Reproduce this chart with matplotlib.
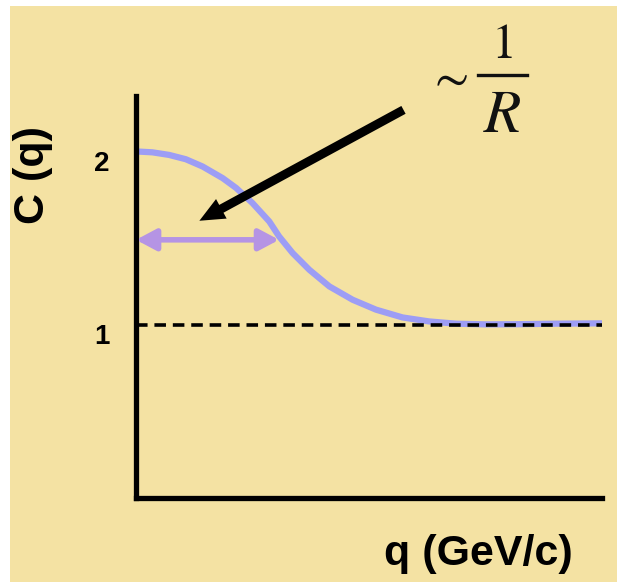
import matplotlib
matplotlib.use("Agg")
import matplotlib.pyplot as plt
import matplotlib.transforms as mtransforms
from matplotlib.patches import FancyArrowPatch, Rectangle
from matplotlib.lines import Line2D

# ---- data ----
q_vals = [0, 3.5, 7.1, 10.7, 14.3, 18.6, 21.5, 25.0, 28.6, 30.7, 33.6, 37.2, 41.5,
          46.5, 51.5, 57.2, 62.9, 68.7, 75.0, 82.0, 90.0, 100.0]
c_vals = [2.0, 1.995, 1.98, 1.955, 1.913, 1.846, 1.789, 1.702, 1.596, 1.510, 1.414, 1.317, 1.221,
          1.144, 1.087, 1.042, 1.019, 1.006, 1.002, 1.003, 1.006, 1.008]
y_ticks = [1, 2]
y_tick_labels = ["1", "2"]
baseline = 1.0
width_arrow_q = [0, 30.7]      # double arrow extent (q)
width_arrow_c = 1.49           # level of double arrow
pointer_tail = (57.4, 2.24)
pointer_head = (13.6, 1.60)

BG = "#f4e2a3"
CURVE = "#9d9df5"
PURPLE = "#b594e4"
INK = "#111111"

plt.rcParams["mathtext.fontset"] = "stix"

fig = plt.figure(figsize=(6.17, 5.82), dpi=100)
fig.patch.set_facecolor("white")
fig.patches.append(Rectangle((10/617, 0), 1 - 10/617, 1 - 6/582, transform=fig.transFigure,
                             facecolor=BG, edgecolor="none", zorder=-10))

ax = fig.add_axes([136/617, 1 - 498/582, (602 - 136)/617, (498 - 96)/582])
ax.set_facecolor("none")
ax.set_xlim(0, 100)
ax.set_ylim(0, 2.32)

for s in ["top", "right"]:
    ax.spines[s].set_visible(False)
for s in ["left", "bottom"]:
    ax.spines[s].set_linewidth(3.8)
    ax.spines[s].set_capstyle("projecting")

ax.set_xticks([])
ax.set_yticks(y_ticks)
ax.set_yticklabels(y_tick_labels, fontfamily="Liberation Sans", fontweight="bold", fontsize=20)
ax.tick_params(axis="y", length=0, pad=19)
offset = mtransforms.ScaledTranslation(0, -7/72, fig.dpi_scale_trans)
for lab in ax.get_yticklabels():
    lab.set_transform(lab.get_transform() + offset)

ax.plot(q_vals, c_vals, color=CURVE, lw=4.5, solid_capstyle="butt", solid_joinstyle="round",
        zorder=2, clip_on=False)
ax.axhline(baseline, color="black", lw=2.6, dashes=(3.2, 1.9), zorder=3)

da = FancyArrowPatch((width_arrow_q[0], width_arrow_c), (width_arrow_q[1], width_arrow_c),
                     arrowstyle="<|-|>,head_length=0.6,head_width=0.32", mutation_scale=20,
                     color=PURPLE, lw=4.0, shrinkA=0, shrinkB=0, zorder=4, clip_on=False)
ax.add_patch(da)

pa = FancyArrowPatch(pointer_tail, pointer_head,
                     arrowstyle="simple,head_length=0.9,head_width=0.8,tail_width=0.32",
                     mutation_scale=20, color="black", lw=0, shrinkA=0, shrinkB=0, zorder=5, clip_on=False)
ax.add_patch(pa)

# ~ 1/R annotation
def fx(px): return px / 617
def fy(py): return 1 - py / 582
fig.text(fx(448), fy(77), r"$\sim$", fontsize=36, ha="center", va="center", color=INK)
fig.text(fx(502), fy(58), r"$1$", fontsize=36, ha="center", va="baseline", color=INK)
fig.text(fx(502), fy(132), r"$R$", fontsize=44, ha="center", va="baseline", color=INK)
fig.lines.append(Line2D([fx(478), fx(527)], [fy(75), fy(75)], transform=fig.transFigure,
                        color=INK, lw=2.4))

ax.set_ylabel("C (q)", fontfamily="Liberation Sans", fontweight="bold", fontsize=31)
ax.yaxis.set_label_coords(33/617, 1 - 175/582, transform=fig.transFigure)
ax.set_xlabel("q (GeV/c)", fontfamily="Liberation Sans", fontweight="bold", fontsize=31)
ax.xaxis.set_label_coords(478/617, 1 - 554/582, transform=fig.transFigure)
ax.xaxis.label.set_va("center")
ax.yaxis.label.set_va("center")

fig.savefig("out.png", dpi=100, facecolor=fig.get_facecolor())
